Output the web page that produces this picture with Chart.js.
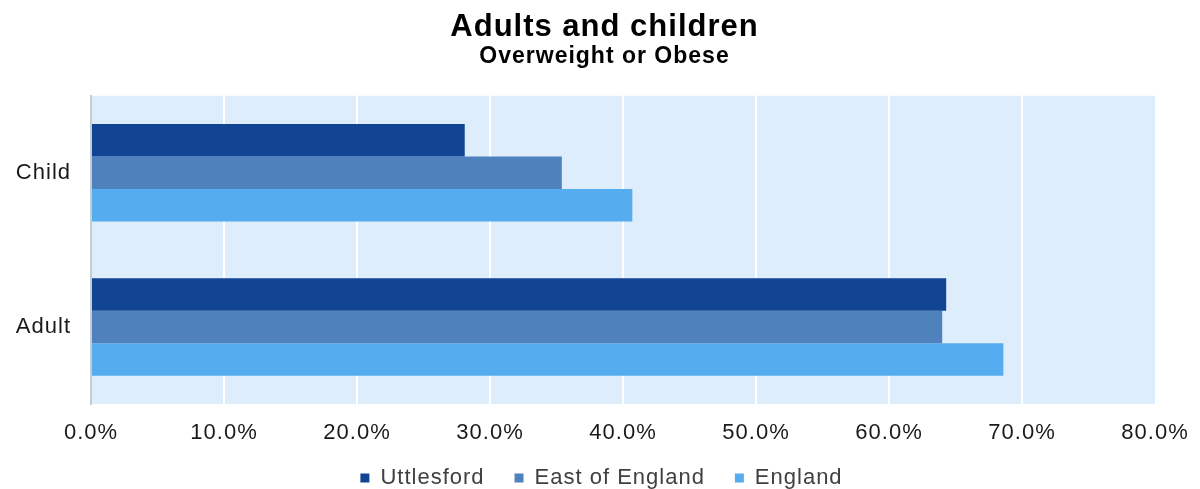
<!DOCTYPE html>
<html>
<head>
<meta charset="utf-8">
<script src="https://cdn.jsdelivr.net/npm/chart.js@4.4.1/dist/chart.umd.min.js"></script>
<style>
  html, body { margin: 0; padding: 0; background: #ffffff; }
  #wrap { width: 1200px; height: 489px; position: relative; }
</style>
</head>
<body>
<div id="wrap"><canvas id="c" width="1200" height="489"></canvas></div>
<script>
const categories = ['Child', 'Adult'];
const seriesNames = ['Uttlesford', 'East of England', 'England'];
const uttlesford = [28.1, 64.3];
const eastOfEngland = [35.4, 64.0];
const england = [40.7, 68.6];
const tickValues = [0, 10, 20, 30, 40, 50, 60, 70, 80];
const colors = ['#114493', '#4f81bd', '#55acee'];

const FONT = "'Liberation Sans', Arial, sans-serif";
const LEGEND_PAD = 30;

const spacing = {
  id: 'spacing',
  beforeUpdate(chart) { chart.ctx.letterSpacing = '1px'; },
  beforeDraw(chart) { chart.ctx.letterSpacing = '1px'; }
};

const plotBg = {
  id: 'plotBg',
  beforeDraw(chart) {
    const {ctx, chartArea: a} = chart;
    ctx.save();
    ctx.fillStyle = '#ddedfb';
    ctx.fillRect(a.left, a.top, a.right - a.left, a.bottom - a.top);
    ctx.restore();
  }
};

const boxShift = {
  id: 'boxShift',
  afterLayout(chart) {
    for (const b of chart.boxes) {
      if (b.options && typeof b.options.text === 'string') {
        b.left += 27; b.right += 27;
      }
    }
    const l = chart.legend;
    if (l) {
      const h = l.height;
      l.top = 478 - 11 - LEGEND_PAD;
      l.bottom = l.top + h;
      l.left += 24; l.right += 24;
    }
  }
};

new Chart(document.getElementById('c'), {
  type: 'bar',
  data: {
    labels: categories,
    datasets: [
      { label: seriesNames[0], data: uttlesford, backgroundColor: colors[0] },
      { label: seriesNames[1], data: eastOfEngland, backgroundColor: colors[1] },
      { label: seriesNames[2], data: england, backgroundColor: colors[2] }
    ]
  },
  options: {
    indexAxis: 'y',
    responsive: false,
    animation: false,
    devicePixelRatio: 1,
    layout: { padding: { left: 0, right: 45, top: 0, bottom: -28 } },
    datasets: { bar: { categoryPercentage: 0.633, barPercentage: 1.0, borderWidth: 0 } },
    scales: {
      x: {
        min: 0, max: 80,
        afterBuildTicks(scale) { scale.ticks = tickValues.map(v => ({ value: v })); },
        afterFit(scale) { scale.height = 51; scale.paddingLeft = 0; scale.paddingRight = 0; },
        grid: {
          drawTicks: false,
          color: ctx => (ctx.tick && ctx.tick.value > 0 && ctx.tick.value < 80) ? '#ffffff' : 'rgba(0,0,0,0)',
          lineWidth: 2
        },
        border: { display: false },
        ticks: {
          padding: 16,
          color: '#1a1a1a',
          font: { family: FONT, size: 22 },
          callback: v => Number(v).toFixed(1) + '%',
          maxRotation: 0
        }
      },
      y: {
        afterFit(scale) { scale.width = 91; scale.paddingTop = 0; scale.paddingBottom = 0; },
        grid: { display: false, drawTicks: false },
        border: { display: true, color: '#c4ccd4', width: 2 },
        ticks: {
          padding: 20,
          color: '#1a1a1a',
          font: { family: FONT, size: 22 }
        }
      }
    },
    plugins: {
      title: {
        display: true,
        text: 'Adults and children',
        color: '#000000',
        font: { family: FONT, size: 31, weight: 'bold' },
        padding: { top: 9, bottom: -3 }
      },
      subtitle: {
        display: true,
        text: 'Overweight or Obese',
        color: '#000000',
        font: { family: FONT, size: 23, weight: 'bold' },
        padding: { top: 0, bottom: 25 }
      },
      legend: {
        position: 'bottom',
        labels: {
          color: '#404040',
          font: { family: FONT, size: 22 },
          boxWidth: 9,
          boxHeight: 9,
          padding: LEGEND_PAD
        }
      },
      tooltip: { enabled: false }
    }
  },
  plugins: [spacing, plotBg, boxShift]
});
</script>
</body>
</html>
